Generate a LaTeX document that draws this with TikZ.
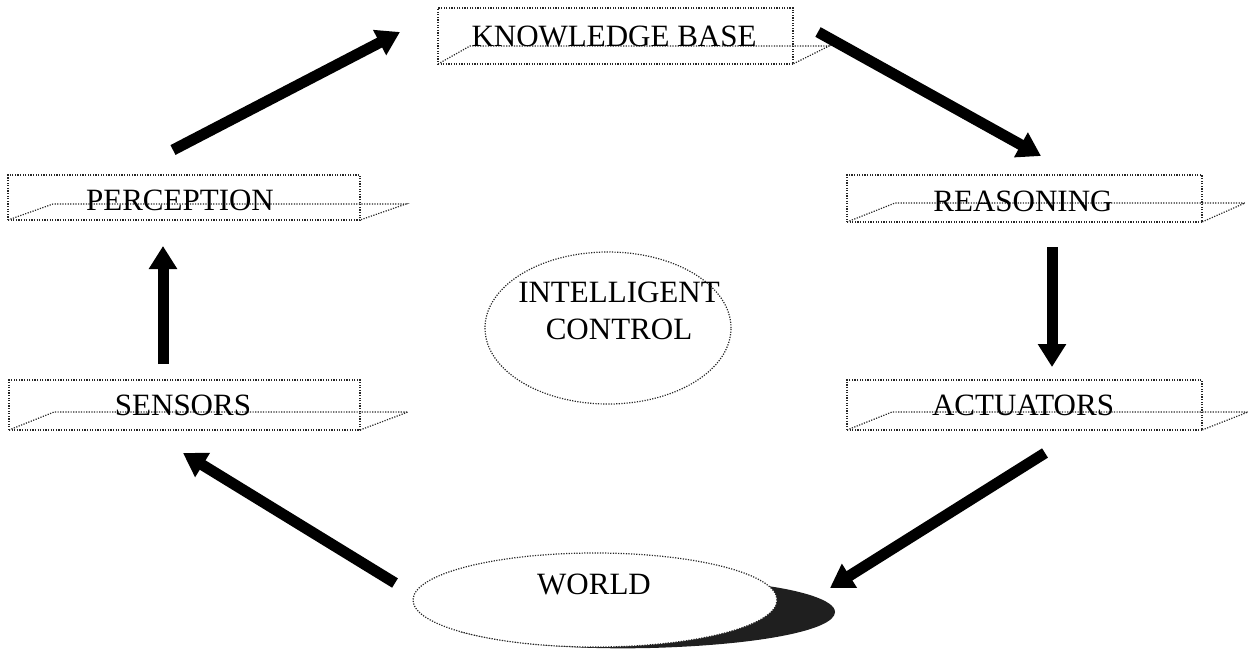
\documentclass[tikz,border=0pt]{standalone}
\usepackage{fontspec}
\setmainfont{Liberation Serif}
\usetikzlibrary{arrows.meta,calc,shapes.geometric}
\begin{document}
\begin{tikzpicture}[x=1pt,y=-1pt,
  dots/.style={line width=1.2pt, dash pattern=on 1.2pt off 1.4pt, draw=black!85},
  box/.style={draw=black!85, line width=1.2pt, dash pattern=on 1.2pt off 1.4pt, outer sep=0pt, inner sep=0pt,
              text=black, font=\fontsize{31}{37}\selectfont},
  lbl/.style={text=black, font=\fontsize{31}{37}\selectfont, align=center, inner sep=0pt},
  arr/.style={line width=11pt, black, -{Triangle[width=27pt,length=23pt]}}]
\useasboundingbox (0,0) rectangle (1255,651);

% boxes
\node[box, minimum width=355pt, minimum height=56pt] (kb) at (615.5,36) {};
\node[box, minimum width=352pt, minimum height=45pt] (perc) at (184,197.5) {};
\node[box, minimum width=355pt, minimum height=47pt] (reas) at (1024.5,198.5) {};
\node[box, minimum width=351pt, minimum height=50pt] (sens) at (184.5,405) {};
\node[box, minimum width=355pt, minimum height=50pt] (act) at (1024.5,405) {};

\draw[dots] (kb.south west) -- ++(32,-18) -- ($(kb.south east)+(36,-18)$) -- (kb.south east);
\draw[dots] (perc.south west) -- ++(45,-16) -- ($(perc.south east)+(46,-16)$) -- (perc.south east);
\draw[dots] (reas.south west) -- ++(48,-19) -- ($(reas.south east)+(43,-19)$) -- (reas.south east);
\draw[dots] (sens.south west) -- ++(45,-18) -- ($(sens.south east)+(48,-18)$) -- (sens.south east);
\draw[dots] (act.south west) -- ++(45,-18) -- ($(act.south east)+(46,-18)$) -- (act.south east);

\node[lbl] (kbt) at (614,36) {KNOWLEDGE BASE};
\node[lbl] (perct) at (180,200) {PERCEPTION};
\node[lbl] (reast) at (1023,201) {REASONING};
\node[lbl] (senst) at (183,405) {SENSORS};
\node[lbl] (actt) at (1023,405) {ACTUATORS};

% intelligent control
\node[ellipse, dots, minimum width=246pt, minimum height=152pt, inner sep=0pt] (ic) at (608,328) {};
\node[lbl] (ict) at (619,311) {INTELLIGENT\\CONTROL};

% world with shadow
\fill[black!88] (760,585) .. controls (800,590) and (835,600) .. (835,612)
   .. controls (835,630) and (760,645) .. (650,648)
   .. controls (560,650) and (500,642) .. (460,632) -- (595,600) -- cycle;
\node[ellipse, dots, fill=white, minimum width=364pt, minimum height=94pt, inner sep=0pt] (world) at (595,600) {};
\node[lbl] (worldt) at (594,584) {WORLD};

% arrows
\coordinate (a1s) at (173,150);  \coordinate (a1e) at (400,32);
\coordinate (a2s) at (818,32);   \coordinate (a2e) at (1041,156);
\coordinate (a3s) at (1052,247); \coordinate (a3e) at (1052,367);
\coordinate (a4s) at (1045,453); \coordinate (a4e) at (830,588);
\coordinate (a5s) at (395,583);  \coordinate (a5e) at (183,453);
\coordinate (a6s) at (163,364);  \coordinate (a6e) at (163,246);
\draw[arr] (a1s) -- (a1e);
\draw[arr] (a2s) -- (a2e);
\draw[arr] (a3s) -- (a3e);
\draw[arr] (a4s) -- (a4e);
\draw[arr] (a5s) -- (a5e);
\draw[arr] (a6s) -- (a6e);
\end{tikzpicture}
\end{document}
